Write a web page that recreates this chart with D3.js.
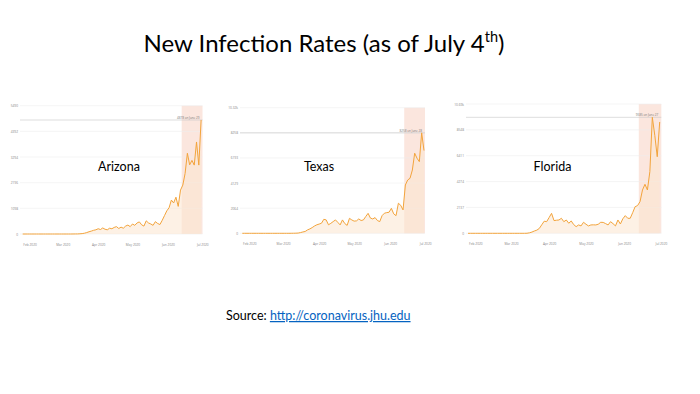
<!DOCTYPE html>
<html><head><meta charset="utf-8">
<script src="https://cdn.jsdelivr.net/npm/d3@7"></script>
<style>
html,body{margin:0;padding:0;background:#fff;}
svg{display:block;}
</style></head>
<body>
<svg id="c" width="700" height="394"></svg>
<script>
// ---- data ----
const titleText = "New Infection Rates (as of July 4";
const titleSup = "th";
const sourceLabel = "Source: ";
const sourceLink = "http://coronavirus.jhu.edu";
const states = ["Arizona", "Texas", "Florida"];
const monthTicks = ["2020-02-01","2020-03-01","2020-04-01","2020-05-01","2020-06-01","2020-07-01"];
const bandStart = "2020-06-13";
const bandEnd = "2020-07-01";
// dates every second day, Jan 26 .. Jun 30 2020
const dates = d3.timeDay.range(new Date(2020,0,26), new Date(2020,6,1), 2);

const arizona = [0,0,0,0,0,0,0,0,0,0,0,0,0,0,0,0,0,0,0,0,0,0,
  1,2,3,9,17,34,62,96,124,158,180,225,191,259,203,180,248,225,281,315,236,293,248,338,383,315,428,371,473,518,394,338,563,473,428,371,529,450,405,585,788,990,1125,1451,1328,1575,1181,1879,2093,2588,3454,2959,3150,2948,3938,2948,4878];
const texas = [0,0,0,0,0,0,0,0,0,0,0,0,0,0,0,0,0,0,0,0,0,
  2,5,10,20,60,110,150,280,360,470,600,700,760,830,1150,1100,700,820,960,1100,900,690,1100,800,650,1230,1100,1000,1020,1180,1050,1100,1380,1640,1250,1180,1290,1050,960,1450,1650,1700,1730,2050,1600,1450,2470,2300,1920,3970,4380,4520,5200,6580,6170,5890,8258,6800];
const florida = [0,0,0,0,0,0,0,0,0,0,0,0,0,0,0,0,0,0,0,0,0,0,0,0,
  5,40,100,190,260,400,700,1000,960,1300,1650,1050,1080,1100,1240,960,1100,830,1020,720,550,690,610,910,750,610,690,700,690,750,910,900,800,690,960,800,610,1100,770,1200,1460,1240,1240,1700,2200,2290,2620,3580,4050,3580,5100,9585,8100,6330,9200];

const azTicks = [0,1098,2196,3294,4392,5490];
const azTickLabels = ["0","1098","2196","3294","4392","5490"];
const txTicks = [0,2064,4129,6193,8258,10322];
const txTickLabels = ["0","2064","4129","6193","8258","10.32k"];
const flTicks = [0,2137,4274,6411,8548,10686];
const flTickLabels = ["0","2137","4274","6411","8548","10.69k"];
const maxNotes = ["4878 on June 29","8258 on June 28","9585 on June 27"];

// ---- layout (positions only) ----
const panels = [
  {name: states[0], values: arizona, ticks: azTicks, labels: azTickLabels, note: maxNotes[0],
   x0: 22.7, x1: 201.1, gridL: 20, gridR: 202.5, yTop: 105.7, yZero: 234, xLabY: 246.5, labelX: 119},
  {name: states[1], values: texas, ticks: txTicks, labels: txTickLabels, note: maxNotes[1],
   x0: 242.3, x1: 424, gridL: 240, gridR: 425, yTop: 107.7, yZero: 233.3, xLabY: 245.5, labelX: 319},
  {name: states[2], values: florida, ticks: flTicks, labels: flTickLabels, note: maxNotes[2],
   x0: 468, x1: 659.7, gridL: 466, gridR: 661.3, yTop: 104, yZero: 233.3, xLabY: 245.5, labelX: 552.5}
];

const svg = d3.select("#c");
const parse = d3.timeParse("%Y-%m-%d");
const lineColor = "#f3a43c";

panels.forEach(p => {
  const g = svg.append("g");
  const x = d3.scaleTime().domain([dates[0], dates[dates.length-1]]).range([p.x0, p.x1]);
  const y = d3.scaleLinear().domain([0, p.ticks[p.ticks.length-1]]).range([p.yZero, p.yTop]);
  const pts = dates.map((d,i) => ({d, v: p.values[i]}));

  // band
  g.append("rect")
    .attr("x", x(parse(bandStart)))
    .attr("y", p.yTop)
    .attr("width", p.gridR - x(parse(bandStart)))
    .attr("height", p.yZero - p.yTop)
    .attr("fill", "#f9ddd3").attr("opacity", 0.75);

  // gridlines
  g.selectAll("line.grid").data(p.ticks).join("line")
    .attr("x1", p.gridL).attr("x2", p.gridR)
    .attr("y1", d => y(d)).attr("y2", d => y(d))
    .attr("stroke", "#efefef").attr("stroke-width", 0.6);

  // y tick labels
  const ya = d3.axisLeft(y).tickValues(p.ticks).tickSize(0).tickPadding(0)
    .tickFormat((d,i) => p.labels[i]);
  const yg = g.append("g").attr("transform", `translate(${p.gridL - 2},0)`).call(ya);
  yg.select(".domain").remove();
  yg.selectAll("text").attr("font-size", 3.2).attr("fill", "#888").attr("font-family", "Open Sans, sans-serif");

  // x tick labels
  const xa = d3.axisBottom(x).tickValues(monthTicks.map(parse)).tickSize(0).tickPadding(0)
    .tickFormat(d3.timeFormat("%b %Y"));
  const xg = g.append("g").attr("transform", `translate(0,${p.xLabY - 3})`).call(xa);
  xg.select(".domain").remove();
  xg.selectAll("text").attr("font-size", 3.2).attr("fill", "#888").attr("font-family", "Open Sans, sans-serif");

  // area
  const area = d3.area().x(d => x(d.d)).y0(y(0)).y1(d => y(d.v));
  g.append("path").datum(pts).attr("d", area).attr("fill", "#fbe6cf").attr("opacity", 0.55);

  // max reference line
  const maxV = d3.max(p.values);
  g.append("line").attr("x1", p.gridL).attr("x2", p.gridR)
    .attr("y1", y(maxV)).attr("y2", y(maxV))
    .attr("stroke", "#c8c8c8").attr("stroke-width", 0.6);
  g.append("text").attr("x", p.gridR - 3).attr("y", y(maxV) - 1)
    .attr("text-anchor", "end").attr("font-size", 3).attr("fill", "#777")
    .attr("font-family", "Open Sans, sans-serif").text(p.note);

  // line
  const line = d3.line().x(d => x(d.d)).y(d => y(d.v));
  g.append("path").datum(pts).attr("d", line).attr("fill", "none")
    .attr("stroke", lineColor).attr("stroke-width", 1).attr("stroke-linejoin", "round");

  // state label
  g.append("text").attr("x", p.labelX).attr("y", 171)
    .attr("text-anchor", "middle").attr("font-size", 12.5)
    .attr("font-family", "Lato, sans-serif").attr("fill", "#000").text(p.name);
});

// title
const t = svg.append("text").attr("x", 324).attr("y", 52).attr("text-anchor", "middle")
  .attr("font-family", "Lato, sans-serif").attr("font-size", 24).attr("fill", "#000");
t.append("tspan").text(titleText);
t.append("tspan").attr("font-size", 14.5).attr("dy", -10).text(titleSup);
t.append("tspan").attr("dy", 10).text(")");

// source
const s = svg.append("text").attr("x", 226).attr("y", 320)
  .attr("font-family", "Lato, sans-serif").attr("font-size", 12.5).attr("fill", "#000");
s.append("tspan").text(sourceLabel);
s.append("tspan").attr("fill", "#0563c1").attr("text-decoration", "underline").text(sourceLink);
</script>
</body></html>
